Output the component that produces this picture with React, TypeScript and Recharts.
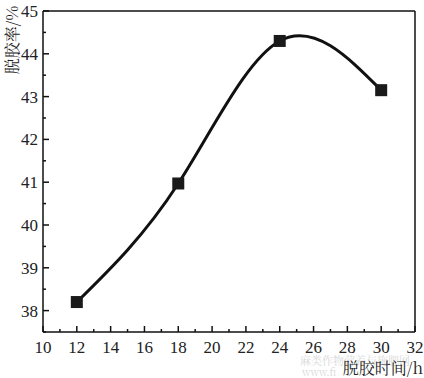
import { LineChart, Line, XAxis, YAxis, ReferenceLine } from "recharts";

const hours = [12, 18, 24, 30];
const rate = [38.2, 40.97, 44.3, 43.15];

const xTicks = [10, 11, 12, 13, 14, 15, 16, 17, 18, 19, 20, 21, 22, 23, 24, 25, 26, 27, 28, 29, 30, 31, 32];
const yTicks = [37.5, 38, 38.5, 39, 39.5, 40, 40.5, 41, 41.5, 42, 42.5, 43, 43.5, 44, 44.5, 45];

const data = hours.map((h, i) => ({ h, r: rate[i] }));

const FONT = "Liberation Serif, serif";
const CJK = "Noto Serif CJK SC, Noto Sans CJK SC, serif";

const XTick = (props: any) => {
  const { x, y, payload } = props;
  const v = payload.value;
  const major = v % 2 === 0;
  return (
    <g>
      <line x1={x} y1={y} x2={x} y2={y - (major ? 6 : 3)} stroke="#111" strokeWidth={1.5} />
      {major && (
        <text x={x} y={y + 21} textAnchor="middle" fontSize={17} style={{ fontFamily: FONT }} fill="#222">
          {v}
        </text>
      )}
    </g>
  );
};

const YTick = (props: any) => {
  const { x, y, payload } = props;
  const v = payload.value;
  const major = Number.isInteger(v);
  return (
    <g>
      <line x1={x} y1={y} x2={x + (major ? 6 : 3)} y2={y} stroke="#111" strokeWidth={1.5} />
      {major && (
        <text x={x - 5} y={y + 6} textAnchor="end" fontSize={17} style={{ fontFamily: FONT }} fill="#222">
          {v}
        </text>
      )}
    </g>
  );
};

const Square = (props: any) => {
  const { cx, cy } = props;
  return <rect x={cx - 6} y={cy - 6} width={12} height={12} fill="#1a1a1a" />;
};

export default function App() {
  return (
    <div style={{ position: "absolute", left: 0, top: 0, width: 424, height: 378, background: "#fff" }}>
      <LineChart width={424} height={378} data={data} margin={{ top: 11, right: 9, bottom: 0, left: 8 }}>
        <XAxis
          dataKey="h"
          type="number"
          domain={[10, 32]}
          ticks={xTicks}
          interval={0}
          height={46}
          tickSize={0}
          tickMargin={0}
          tickLine={false}
          tick={<XTick />}
          axisLine={{ stroke: "#111", strokeWidth: 1.5 }}
        />
        <YAxis
          type="number"
          domain={[37.5, 45]}
          ticks={yTicks}
          interval={0}
          width={35}
          tickSize={0}
          tickMargin={0}
          tickLine={false}
          tick={<YTick />}
          axisLine={{ stroke: "#111", strokeWidth: 1.5 }}
        />
        <ReferenceLine x={32} stroke="#111" strokeWidth={1.5} ifOverflow="visible" />
        <ReferenceLine y={45} stroke="#111" strokeWidth={1.5} ifOverflow="visible" />
        <Line
          type="natural"
          dataKey="r"
          stroke="#111"
          strokeWidth={3}
          dot={<Square />}
          activeDot={false}
          isAnimationActive={false}
        />
      </LineChart>
      <svg width={424} height={378} style={{ position: "absolute", left: 0, top: 0, pointerEvents: "none" }}>
        <text x={300} y={365} fontSize={11} style={{ fontFamily: CJK }} fill="#d8d8d8">
          麻类作物营养与施肥网
        </text>
        <text x={302} y={376} fontSize={10} style={{ fontFamily: CJK }} fill="#d8d8d8">
          www.fi
        </text>
        <text x={423} y={374} textAnchor="end" fontSize={16} style={{ fontFamily: CJK }} fill="#222">
          脱胶时间/h
        </text>
        <text
          x={0}
          y={0}
          transform="translate(18, 40) rotate(-90)"
          textAnchor="middle"
          fontSize={16}
          style={{ fontFamily: CJK }}
          fill="#222"
        >
          脱胶率/%
        </text>
      </svg>
    </div>
  );
}
